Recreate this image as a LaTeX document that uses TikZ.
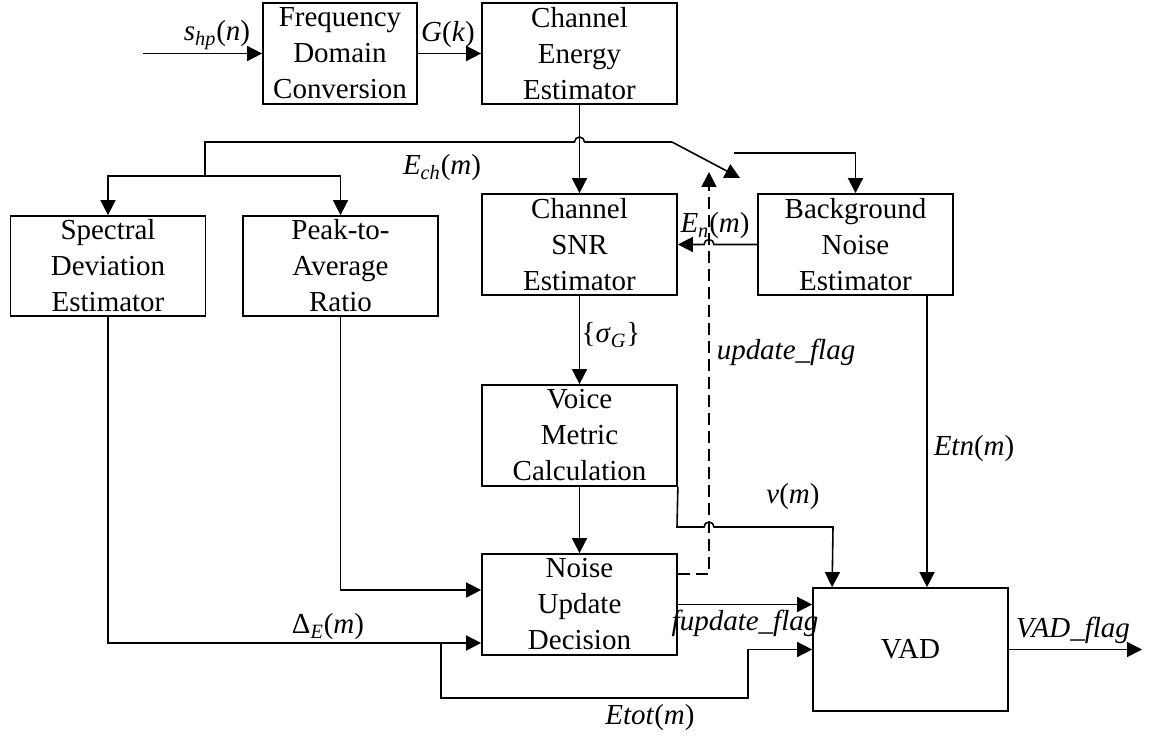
\documentclass[tikz,border=0pt]{standalone}
\usepackage{fontspec}
\setmainfont{Liberation Serif}
\usetikzlibrary{arrows.meta,positioning,calc}

\newcommand{\sbs}[1]{\textsubscript{\textit{#1}}}

\begin{document}
\begin{tikzpicture}[x=0.02cm, y=-0.02cm,
    every node/.style={font=\fontsize{16.5}{20.5}\selectfont},
    block/.style={draw, line width=1pt, minimum width=3.9cm, minimum height=2.02cm, align=center, inner sep=0pt},
    sig/.style={line width=0.9pt, -{Triangle[length=0.3cm, width=0.3cm]}},
    wire/.style={line width=0.9pt},
    lbl/.style={inner sep=0pt}]
      \useasboundingbox (0,0) rectangle (1152,736);

      % Blocks
      \node[block, minimum width=3.08cm] (freq) at (340,53.5) {Frequency\\Domain\\Conversion};
      \node[block] (energy) at (579.5,53.5) {Channel\\Energy\\Estimator};
      \node[block, minimum height=2cm] (spectral) at (108,266) {Spectral\\Deviation\\Estimator};
      \node[block, minimum height=2cm] (peak) at (340.5,266) {Peak-to-\\Average\\Ratio};
      \node[block] (snr) at (579.5,244.5) {Channel\\SNR\\Estimator};
      \node[block] (bgnoise) at (855.5,244.5) {Background\\Noise\\Estimator};
      \node[block] (voice) at (579.5,435.5) {Voice\\Metric\\Calculation};
      \node[block] (decision) at (579.5,604.5) {Noise\\Update\\Decision};
      \node[block, minimum height=2.46cm] (vad) at (910.5,649.5) {VAD};

      % Free ends and branch points
      \coordinate (in) at (143,53.5);
      \coordinate (sw) at (672,142);
      \coordinate (swtip) at (740,178);
      \coordinate (swout) at (734,153);
      \coordinate (split) at (205,176);
      \coordinate (upd) at (709,172);
      \coordinate (tap) at (441,643);
      \coordinate (out) at (1142,649.5);

      % Front end
      \draw[sig] (in) -- (freq.west);
      \draw[sig] (freq.east) -- (energy.west);
      \draw[sig] (energy.south) -- (snr.north);

      % Channel energy bus and switch
      \draw[wire] (sw) -- (584.5,142) arc[start angle=0, end angle=180, radius=0.1cm] -- (205,142) -- (split);
      \draw[sig] (split) -| (spectral.north);
      \draw[sig] (split) -| (peak.north);
      \draw[sig] (sw) -- (swtip);
      \draw[sig] (swout) -| (bgnoise.north);

      % Noise estimate back to SNR
      \draw[sig] (bgnoise.west) -- (714,244.5) arc[start angle=0, end angle=180, radius=0.1cm] -- (snr.east);

      % Middle chain
      \draw[sig] (snr.south) -- (voice.north);
      \draw[sig] (voice.south) -- (decision.north);
      \draw[sig, dash pattern=on 0.24cm off 0.12cm] ([yshift=0.61cm]decision.east) -| (upd);

      % Into the VAD
      \draw[sig] (voice.south east) -- (677,527) -- (704,527) arc[start angle=180, end angle=0, radius=0.1cm] -- (833,527) -- ([xshift=0.4cm]vad.north west);
      \draw[sig] ([xshift=1.43cm]bgnoise.south) -- ([xshift=0.33cm]vad.north);
      \draw[sig] (peak.south) |- ([yshift=0.29cm]decision.west);
      \draw[sig] (spectral.south) |- ([yshift=-0.77cm]decision.west);
      \draw[sig] (tap) |- (748,698) |- (vad.west);
      \draw[sig] (decision.east) -- (decision.east -| vad.west);
      \draw[sig] (vad.east) -- (out);

      % Labels
      \node[lbl] (lshp) at (217,35) {\textit{s}\sbs{hp}(\textit{n})};
      \node[lbl] (lgk) at (448,35) {\textit{G}(\textit{k})};
      \node[lbl] (lech) at (442,168) {\textit{E}\sbs{ch}(\textit{m})};
      \node[lbl] (len) at (715,226) {\textit{E}\sbs{n}(\textit{m})};
      \node[lbl] (lsig) at (611,335) {\{\textit{σ}\sbs{G}\}};
      \node[lbl] (lupd) at (786,352) {\textit{update\_flag}};
      \node[lbl] (letn) at (974,449) {\textit{Etn}(\textit{m})};
      \node[lbl] (lv) at (793,497) {\textit{v}(\textit{m})};
      \node[lbl] (lfup) at (745,623) {\textit{fupdate\_flag}};
      \node[lbl] (lvadf) at (1073,630) {\textit{VAD\_flag}};
      \node[lbl] (ldel) at (328,627) {Δ\sbs{E}(\textit{m})};
      \node[lbl] (letot) at (650,718) {\textit{Etot}(\textit{m})};
    \end{tikzpicture}
\end{document}
